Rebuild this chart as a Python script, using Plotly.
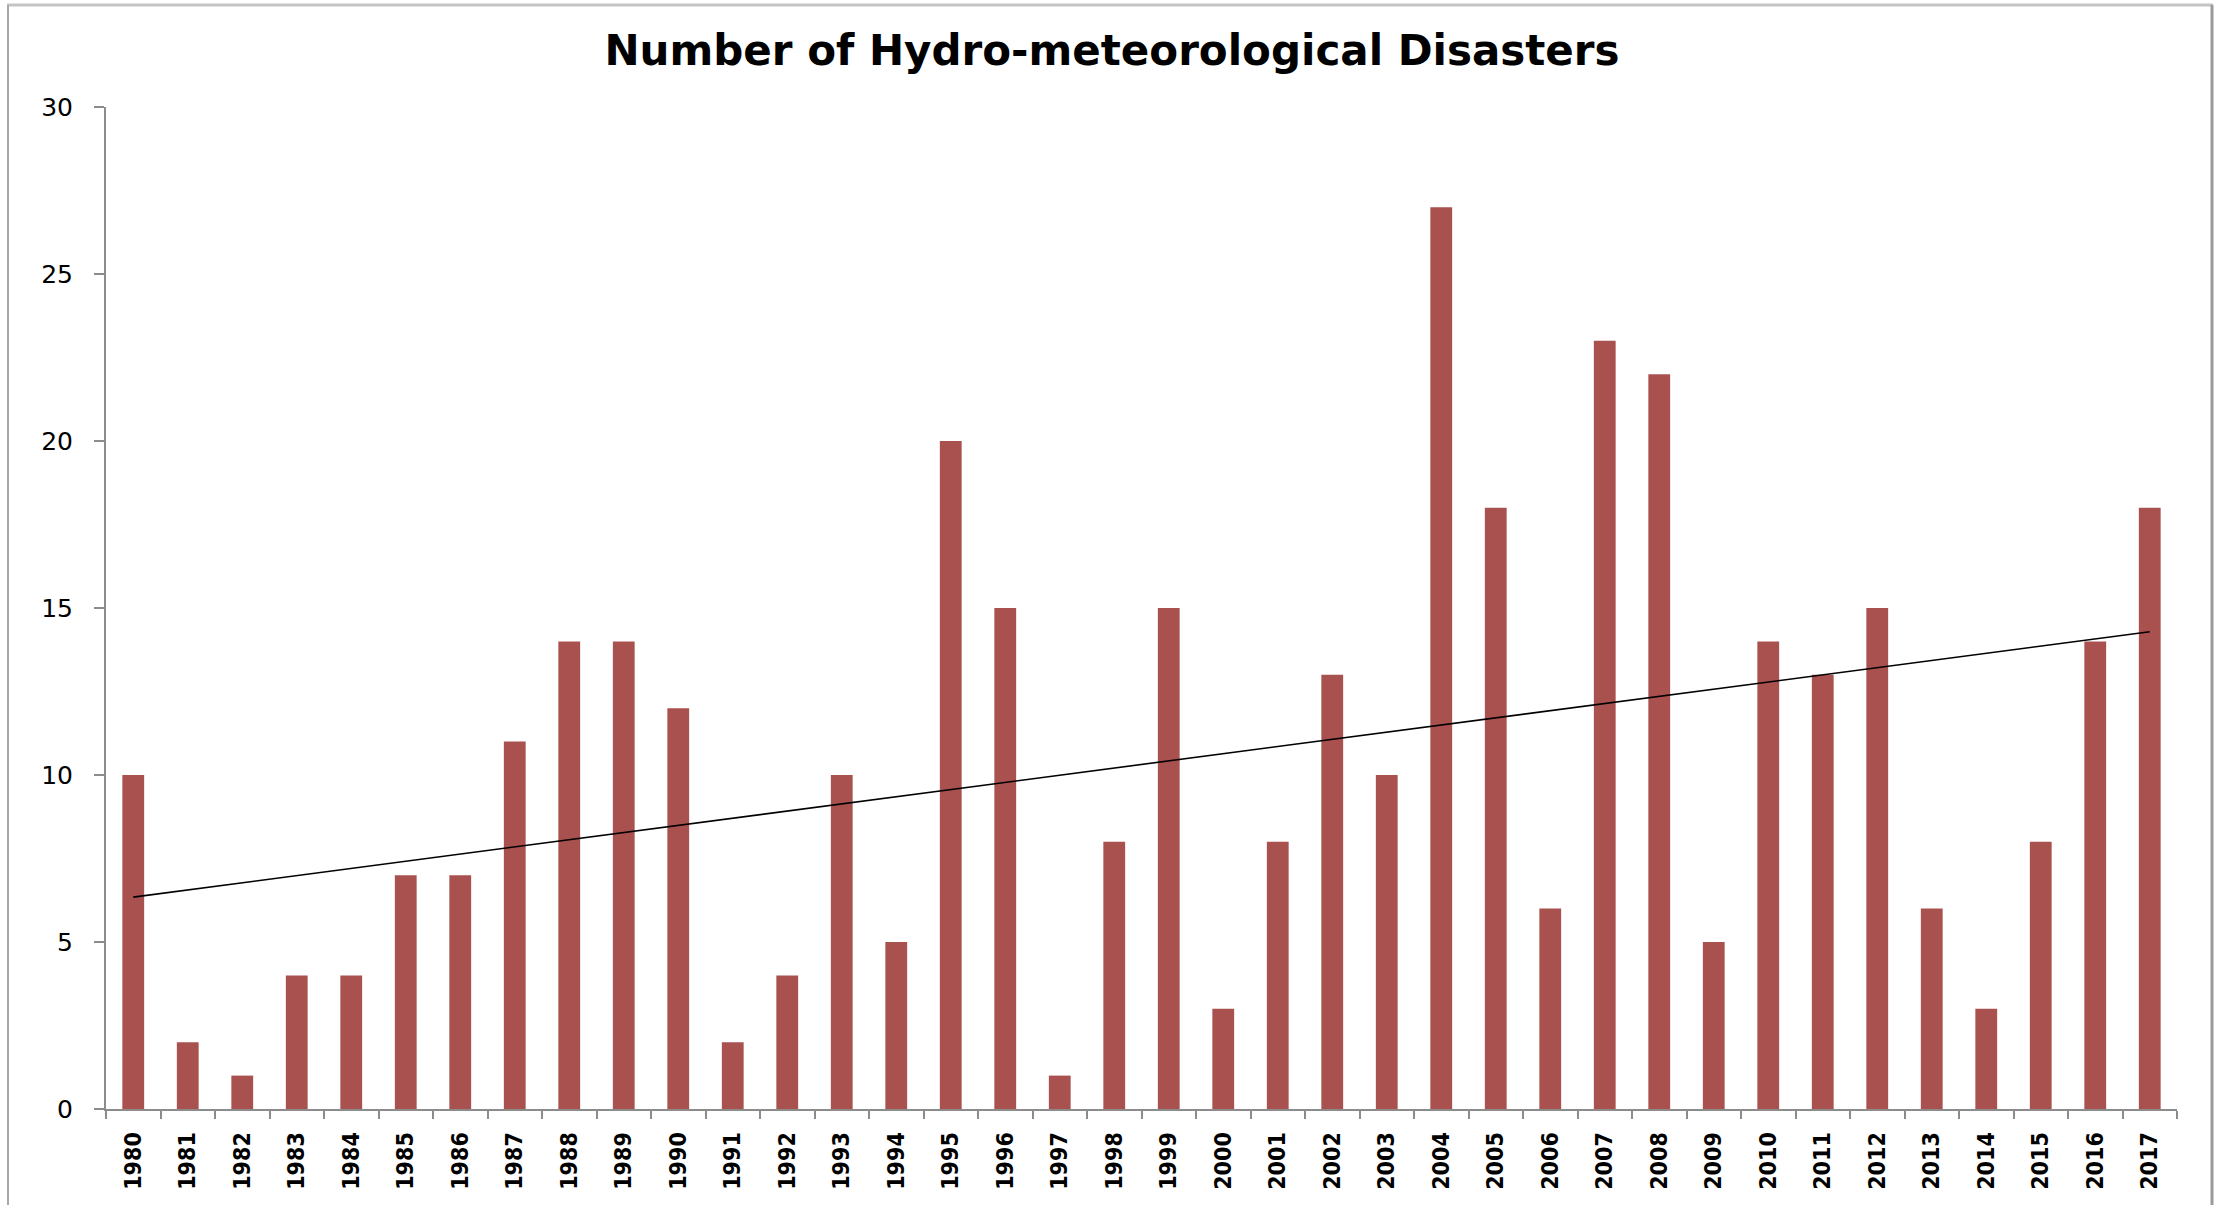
import numpy as np
import plotly.graph_objects as go

# Annual counts of hydro-meteorological disasters
years = [str(y) for y in range(1980, 2018)]
disasters = [10, 2, 1, 4, 4, 7, 7, 11, 14, 14,
             12, 2, 4, 10, 5, 20, 15, 1, 8, 15,
             3, 8, 13, 10, 27, 18, 6, 23, 22, 5,
             14, 13, 15, 6, 3, 8, 14, 18]
y_ticks = [0, 5, 10, 15, 20, 25, 30]

chart_title = "Number of Hydro-meteorological Disasters"

# Linear trend fitted over the year index
idx = np.arange(len(years))
slope, intercept = np.polyfit(idx, disasters, 1)
trend = slope * idx + intercept

W, H = 2224, 1205
ML, MR, MT, MB = 106, 47, 107, 96
PW, PH = W - ML - MR, H - MT - MB


def px_x(px):
    return (px - ML) / PW


def px_y(py):
    return (H - MB - py) / PH


fig = go.Figure()
fig.add_trace(go.Bar(
    x=years, y=disasters,
    marker=dict(color="#A9514F", line=dict(width=0)),
    showlegend=False,
))
fig.add_trace(go.Scatter(
    x=[years[0], years[-1]], y=[trend[0], trend[-1]],
    mode="lines", line=dict(color="#000000", width=1.6),
    showlegend=False,
))

axis_grey = "#8C8C8C"

# chart frame around the whole figure
frame = [
    dict(x0=px_x(7), x1=px_x(2213), y0=px_y(5), y1=px_y(5), color="#C4C4C4", w=3),
    dict(x0=px_x(8), x1=px_x(8), y0=px_y(5), y1=px_y(1215), color="#A8A8A8", w=2),
    dict(x0=px_x(2212), x1=px_x(2212), y0=px_y(5), y1=px_y(1215), color="#9A9A9A", w=3),
]
shapes = [dict(type="line", xref="paper", yref="paper",
               x0=f["x0"], x1=f["x1"], y0=f["y0"], y1=f["y1"],
               line=dict(color=f["color"], width=f["w"]), layer="above")
          for f in frame]

fig.update_layout(
    width=W, height=H,
    margin=dict(l=ML, r=MR, t=MT, b=MB, pad=0, autoexpand=False),
    paper_bgcolor="white", plot_bgcolor="white",
    bargap=0.6,
    title=dict(
        text=f"<b>{chart_title}</b>",
        font=dict(family="DejaVu Sans", size=42, color="#000000"),
        x=0.5, xref="container", xanchor="center",
        y=1 - 50 / H, yref="container", yanchor="middle",
    ),
    shapes=shapes,
    xaxis=dict(
        type="category",
        range=[-0.5, len(years) - 0.5],
        automargin=False,
        showline=True, linecolor=axis_grey, linewidth=2,
        ticks="outside", tickson="boundaries", ticklen=8,
        tickcolor=axis_grey, tickwidth=2,
        tickangle=-90, ticklabelstandoff=12,
        tickfont=dict(family="Liberation Sans Narrow, Arial Narrow, DejaVu Sans Condensed",
                      size=23, color="#000000", weight="bold"),
        showgrid=False, zeroline=False,
    ),
    yaxis=dict(
        range=[0, 30],
        tickvals=y_ticks,
        automargin=False,
        showline=True, linecolor=axis_grey, linewidth=2,
        ticks="outside", ticklen=10, tickcolor=axis_grey, tickwidth=2,
        ticklabelstandoff=16,
        tickfont=dict(family="DejaVu Sans", size=25, color="#000000"),
        showgrid=False, zeroline=False,
    ),
)

fig.write_html("out.html")
